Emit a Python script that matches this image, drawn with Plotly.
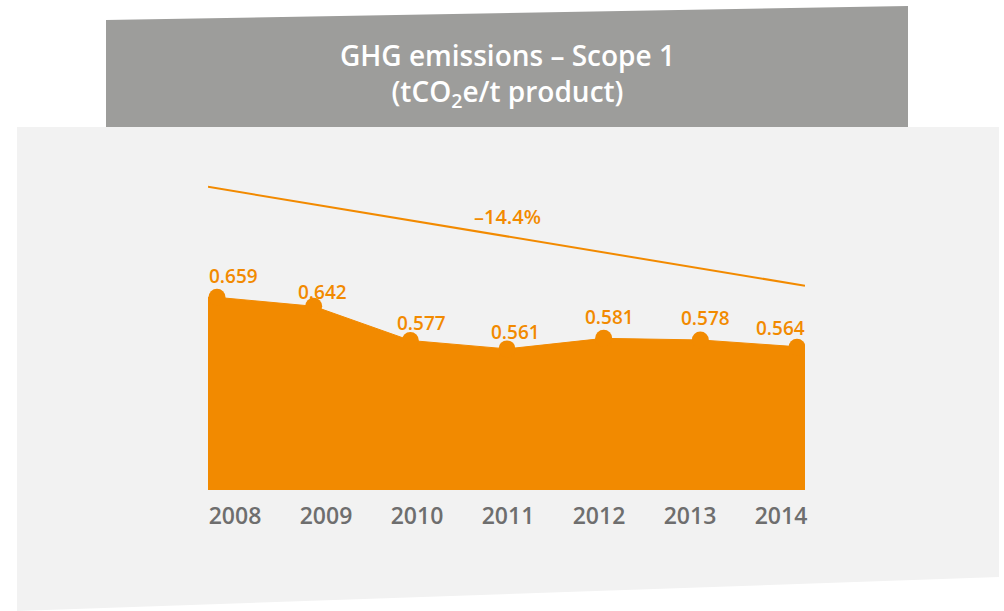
import plotly.graph_objects as go

# Scope 1 GHG intensity, tCO2e per tonne of product
years = [2008, 2009, 2010, 2011, 2012, 2013, 2014]
emissions = [0.659, 0.642, 0.577, 0.561, 0.581, 0.578, 0.564]
year_labels = ["2008", "2009", "2010", "2011", "2012", "2013", "2014"]
# end heights of the decorative downward trend arrow
trend_ends = [0.869, 0.681]

ORANGE = "#F28A00"
GREY_TEXT = "#6E6E6E"
TITLE_BG = "#9D9D9B"
PANEL_BG = "#F2F2F2"
FONT = "Open Sans"

W, H = 1004, 611
PL, PR, PT, PB = 208, 805, 140, 490  # plot area in pixels

# x range: first/last year sit slightly inside the filled band
x0 = years[0] - 9 / 96.67
x1 = years[-1] + 8 / 96.67
y_lo, y_hi = 0.2928, 0.958

# year labels spread across the band on their own axis
lx0 = years[0] - 27 / 91.0
lx1 = years[-1] + 24 / 91.0


def px(x):
    return (x - PL) / (PR - PL)


def py(y):
    return (PB - y) / (PB - PT)


fig = go.Figure()

# filled area, carried flat to the band edges
fig.add_trace(go.Scatter(
    x=[x0] + years + [x1],
    y=[emissions[0]] + emissions + [emissions[-1]],
    mode="lines",
    line=dict(color=ORANGE, width=1),
    fill="tozeroy",
    fillcolor=ORANGE,
    hoverinfo="skip",
    showlegend=False,
))

# yearly points
fig.add_trace(go.Scatter(
    x=years, y=emissions, mode="markers",
    marker=dict(color=ORANGE, size=17),
    showlegend=False,
))

# trend arrow
fig.add_trace(go.Scatter(
    x=[x0, x1], y=trend_ends, mode="lines",
    line=dict(color=ORANGE, width=2),
    hoverinfo="skip", showlegend=False,
))

# invisible trace carrying the year label axis
fig.add_trace(go.Scatter(
    x=years, y=emissions, xaxis="x2", mode="markers",
    marker=dict(opacity=0), hoverinfo="skip", showlegend=False,
))

# value labels above each point
label_dx = [16, 9, 11, 8, 6, 5, -17]
label_dy = [21, 14, 17, 17, 21, 22, 19]
for yr, v, dx, dy in zip(years, emissions, label_dx, label_dy):
    fig.add_annotation(
        x=yr, y=v, text=f"{v:.3f}", showarrow=False,
        xshift=dx, yshift=dy, xanchor="center", yanchor="middle",
        font=dict(family=FONT, size=19, color=ORANGE, weight=600),
    )

# overall change on the trend arrow
change = (emissions[-1] / emissions[0] - 1) * 100
sign = "–" if change < 0 else "+"
fig.add_annotation(
    x=(years[0] + years[-1]) / 2, y=sum(trend_ends) / 2,
    text=f"{sign}{abs(change):.1f}%", showarrow=False,
    yshift=20, xanchor="center", yanchor="middle",
    font=dict(family=FONT, size=20, color=ORANGE, weight=600),
)

# title banner text
fig.add_annotation(
    xref="paper", yref="paper", x=px(507), y=py(75),
    text="GHG emissions – Scope 1<br>(tCO<sub>2</sub>e/t product)",
    showarrow=False, xanchor="center", yanchor="middle",
    font=dict(family=FONT, size=28, color="white", weight=600),
)

# background panel and slanted title banner
panel = (f"M {px(17)},{py(127)} L {px(999)},{py(127)} "
         f"L {px(999)},{py(577)} L {px(17)},{py(611)} Z")
banner = (f"M {px(106)},{py(20)} L {px(908)},{py(6)} "
          f"L {px(908)},{py(127)} L {px(106)},{py(127)} Z")
fig.add_shape(type="path", path=panel, xref="paper", yref="paper",
              fillcolor=PANEL_BG, line=dict(width=0), layer="below")
fig.add_shape(type="path", path=banner, xref="paper", yref="paper",
              fillcolor=TITLE_BG, line=dict(width=0), layer="below")

fig.update_layout(
    width=W, height=H, autosize=False,
    margin=dict(l=PL, r=W - PR, t=PT, b=H - PB, pad=0),
    paper_bgcolor="white", plot_bgcolor="rgba(0,0,0,0)",
    showlegend=False,
    xaxis=dict(range=[x0, x1], visible=False, fixedrange=True),
    xaxis2=dict(
        range=[lx0, lx1], overlaying="x", anchor="y", side="bottom",
        tickmode="array", tickvals=years, ticktext=year_labels,
        showgrid=False, zeroline=False, showline=False, ticks="",
        ticklabelstandoff=10,
        tickfont=dict(family=FONT, size=23, color=GREY_TEXT, weight=600),
    ),
    yaxis=dict(range=[y_lo, y_hi], visible=False, fixedrange=True),
)

fig.write_html("out.html")
